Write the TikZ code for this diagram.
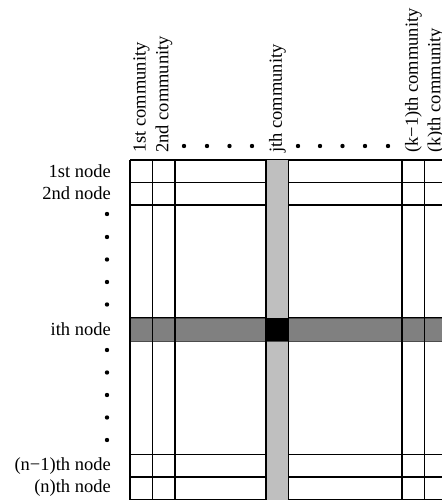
\documentclass[tikz,border=0pt]{standalone}
\usepackage{fontspec}
\setmainfont{Liberation Serif}
\begin{document}
\begin{tikzpicture}[x=1pt,y=-1pt,
  lbl/.style={inner sep=0pt,font=\fontsize{18.5}{22}\selectfont},
  rowlbl/.style={lbl,anchor=east},
  collbl/.style={lbl,anchor=west,rotate=90},
  dotmark/.style={fill=black,circle,inner sep=0pt,minimum size=4.4pt},
  gridline/.style={line width=1.1pt,black}]
\useasboundingbox (0,0) rectangle (442,504);
\begin{scope}
\clip (0,0) rectangle (442,504);
% horizontal lines
\foreach \y in {160,182.5,205,318,341,454.5,477,499.5}
  \draw[gridline] (130,\y) -- (447,\y);
% jth column
\fill[black!25] (266,160) rectangle (288.5,499.5);
% ith row
\fill[black!50] (130,318) rectangle (447,341);
\draw[line width=0.8pt,black!70] (130,318) -- (447,318) (130,341) -- (447,341);
% intersection
\fill[black] (266,318) rectangle (288.5,341);
% vertical lines
\foreach \x in {130,152.5,175,266,288.5,402,424.5,447}
  \draw[gridline] (\x,160) -- (\x,499.5);
\end{scope}
% row labels
\node[rowlbl] (r1) at (111,171) {1st node};
\node[rowlbl] (r2) at (111,193.5) {2nd node};
\node[rowlbl] (ri) at (111,329.5) {ith node};
\node[rowlbl] (rn1) at (111,466) {(n\textminus1)th node};
\node[rowlbl] (rn) at (111,488.5) {(n)th node};
\foreach \y [count=\i] in {214,237,259.5,282,304.5,350,372.5,395,417.5,440}
  \node[dotmark] (rd\i) at (107,\y) {};
% column labels
\node[collbl] (c1) at (141.5,153) {1st community};
\node[collbl] (c2) at (164,153) {2nd community};
\node[collbl] (cj) at (277.5,153) {jth community};
\node[collbl] (ck1) at (413.5,153) {(k\textminus1)th community};
\node[collbl] (ck) at (436,153) {(k)th community};
\foreach \x [count=\i] in {184,207,229.5,252,298,320,342.5,365,388}
  \node[dotmark] (cd\i) at (\x,146) {};
\end{tikzpicture}
\end{document}
